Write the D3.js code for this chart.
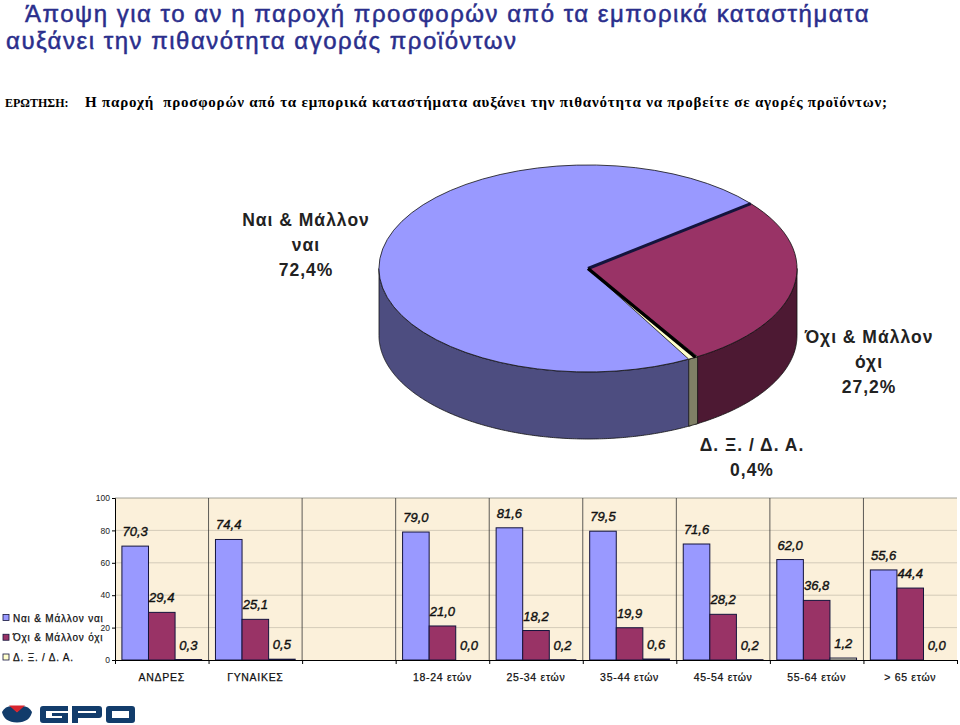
<!DOCTYPE html>
<html>
<head>
<meta charset="utf-8">
<script src="https://cdn.jsdelivr.net/npm/d3@7"></script>
<style>
  html, body { margin: 0; padding: 0; background: #fff; }
  svg { display: block; }
  text { font-family: "Liberation Sans", Arial, sans-serif; }
  .wedge { vector-effect: non-scaling-stroke; }
</style>
</head>
<body>
<div id="the_chart"></div>
<script>
// pie
var pieLabels = ["Ναι & Μάλλον ναι", "Όχι & Μάλλον όχι", "Δ. Ξ. / Δ. Α."];
var pieValues = [72.4, 27.2, 0.4];

// bars
var categories = ["ΑΝΔΡΕΣ", "ΓΥΝΑΙΚΕΣ", " ", "18-24 ετών", "25-34 ετών", "35-44 ετών", "45-54 ετών", "55-64 ετών", "> 65 ετών"];
var yesValues = [70.3, 74.4, null, 79.0, 81.6, 79.5, 71.6, 62.0, 55.6];
var noValues = [29.4, 25.1, null, 21.0, 18.2, 19.9, 28.2, 36.8, 44.4];
var dkValues = [0.3, 0.5, null, 0.0, 0.2, 0.6, 0.2, 1.2, 0.0];
var yTicks = [0, 20, 40, 60, 80, 100];

var colors = ["#9999ff", "#993366", "#ffffcc"];
var wallColors = ["#4d4d80", "#4d1933", "#808066"];

var w = 960, h = 725;
var svg = d3.select("#the_chart").append("svg").attr("width", w).attr("height", h);
var fmt = d3.formatLocale({ decimal: ",", thousands: ".", grouping: [3], currency: ["", ""] }).format(".1f");

// titles
var titleBlue = "#2a2e8c";
function title(x, y, s) {
  svg.append("text").attr("x", x).attr("y", y).attr("font-size", 24).attr("letter-spacing", 1.5)
     .attr("fill", titleBlue).attr("stroke", titleBlue).attr("stroke-width", 0.5).text(s);
}
title(25, 22, "Άποψη για το αν η παροχή προσφορών από τα εμπορικά καταστήματα");
title(6, 49, "αυξάνει την πιθανότητα αγοράς προϊόντων");
svg.append("text").attr("x", 5).attr("y", 106.5).attr("font-size", 12).attr("font-weight", "bold")
   .style("font-family", "'Liberation Serif', serif").text("ΕΡΩΤΗΣΗ:");
svg.append("text").attr("x", 85).attr("y", 106.5).attr("font-size", 15).attr("font-weight", "bold")
   .style("white-space", "pre")
   .style("font-family", "'Liberation Serif', serif")
   .attr("textLength", 802)
   .text("Η παροχή  προσφορών από τα εμπορικά καταστήματα αυξάνει την πιθανότητα να προβείτε σε αγορές προϊόντων;");

// 3d pie
var cx = 588, cy = 268.5, rx = 209, ry = 103.5, depth = 67;
var px = d3.scaleLinear().domain([-1, 1]).range([cx - rx, cx + rx]);
var py = d3.scaleLinear().domain([-1, 1]).range([cy - ry, cy + ry]);
var startDeg = 150.5;
var pieGen = d3.pie().sort(null)
    .startAngle(startDeg * Math.PI / 180)
    .endAngle(startDeg * Math.PI / 180 + 2 * Math.PI);
var slices = pieGen(pieValues);
// the 0,4% sliver is drawn a bit wider so it stays visible
var sliverPad = 0.012;
slices[2].startAngle -= sliverPad;
slices[2].endAngle += sliverPad;

var wall = d3.area()
    .x(function (a) { return px(Math.sin(a)); })
    .y0(function (a) { return py(-Math.cos(a)); })
    .y1(function (a) { return py(-Math.cos(a)) + depth; });

// only the part of a slice between 90 and 270 degrees shows its side
function visibleRange(s) {
  var out = null;
  [0, -2 * Math.PI].forEach(function (o) {
    var lo = Math.max(s.startAngle + o, Math.PI / 2);
    var hi = Math.min(s.endAngle + o, 3 * Math.PI / 2);
    if (hi > lo) out = [lo, hi];
  });
  return out;
}

slices.forEach(function (s, i) {
  var r = visibleRange(s);
  if (!r) return;
  var angles = d3.range(r[0], r[1], 0.01).concat([r[1]]);
  svg.append("path").attr("d", wall(angles))
     .attr("fill", wallColors[i]).attr("stroke", "#111").attr("stroke-width", 0.8);
});

var arc = d3.arc().innerRadius(0).outerRadius(1);
var pieG = svg.append("g").attr("transform", "translate(" + cx + "," + cy + ") scale(" + rx + "," + ry + ")");

function wedge(i) {
  pieG.append("path").attr("class", "wedge").attr("d", arc(slices[i]))
      .attr("fill", colors[i]).attr("stroke", "#111").attr("stroke-width", 0.8);
}
function edge(angle, color, width) {
  svg.append("line")
     .attr("x1", px(0)).attr("y1", py(0))
     .attr("x2", px(Math.sin(angle))).attr("y2", py(-Math.cos(angle)))
     .attr("stroke", color).attr("stroke-width", width);
}
wedge(0);
edge(slices[1].startAngle, "#14143c", 3);
edge(slices[1].endAngle, "#000", 3.5);
wedge(1);
wedge(2);

var pieText = [
  { lines: ["Ναι & Μάλλον", "ναι", fmt(pieValues[0]) + "%"], x: 306, y: 226 },
  { lines: ["Όχι & Μάλλον", "όχι", fmt(pieValues[1]) + "%"], x: 869, y: 343 },
  { lines: ["Δ. Ξ. / Δ. Α.", fmt(pieValues[2]) + "%"], x: 752, y: 451 }
];
pieText.forEach(function (t) {
  t.lines.forEach(function (l, i) {
    svg.append("text").attr("x", t.x).attr("y", t.y + i * 25)
       .attr("text-anchor", "middle").attr("font-size", 17.5).attr("font-weight", "bold")
       .attr("letter-spacing", 1).attr("fill", "#222")
       .text(l);
  });
});

// bars
var left = 115, right = 957, top_ = 498, bottom = 660;
var y = d3.scaleLinear().domain([0, 100]).range([bottom, top_]);
var x0 = d3.scaleBand().domain(categories).range([left, right]);
var seriesIdx = [0, 1, 2];
var x1 = d3.scaleBand().domain(seriesIdx).range([0, x0.bandwidth()]).paddingInner(0).paddingOuter(0.26);
var edges = d3.scaleLinear().domain([0, categories.length]).range([left, right]);

svg.append("rect").attr("x", left).attr("y", top_)
   .attr("width", right - left).attr("height", bottom - top_).attr("fill", "#fbf0da");

svg.append("g").selectAll("line").data(yTicks.slice(1, -1)).enter().append("line")
   .attr("x1", left).attr("x2", right)
   .attr("y1", function (d) { return y(d); }).attr("y2", function (d) { return y(d); })
   .attr("stroke", "#c9c2b0").attr("stroke-width", 0.8);
svg.append("line").attr("x1", left).attr("x2", right).attr("y1", top_).attr("y2", top_)
   .attr("stroke", "#8a8a80").attr("stroke-width", 0.8);

svg.append("g").selectAll("line").data(d3.range(1, categories.length)).enter().append("line")
   .attr("x1", function (d) { return edges(d); }).attr("x2", function (d) { return edges(d); })
   .attr("y1", top_).attr("y2", bottom)
   .attr("stroke", "#333").attr("stroke-width", 0.8);

var seriesData = [yesValues, noValues, dkValues];
seriesData.forEach(function (vals, si) {
  var g = svg.append("g");
  var rows = vals.map(function (v, i) { return { cat: categories[i], v: v }; })
                 .filter(function (d) { return d.v !== null; });
  g.selectAll("rect").data(rows).enter().append("rect")
   .attr("x", function (d) { return x0(d.cat) + x1(si); })
   .attr("y", function (d) { return y(d.v); })
   .attr("width", x1.bandwidth())
   .attr("height", function (d) { return bottom - y(d.v); })
   .attr("fill", colors[si])
   .attr("stroke", "#14143c").attr("stroke-width", 1);
  g.selectAll("text").data(rows).enter().append("text")
   .attr("x", function (d) { return x0(d.cat) + x1(si) + x1.bandwidth() / 2; })
   .attr("y", function (d) { return y(d.v) - 10; })
   .attr("text-anchor", "middle")
   .attr("font-size", 13).attr("font-style", "italic")
   .attr("fill", "#111").attr("stroke", "#111").attr("stroke-width", 0.4)
   .text(function (d) { return fmt(d.v); });
});

var yaxis = d3.axisLeft(y).tickValues(yTicks).tickSize(3).tickPadding(2);
svg.append("g").attr("transform", "translate(" + left + ",0)").call(yaxis)
   .call(function (g) { g.selectAll("text").attr("font-size", 8.5).attr("fill", "#222"); });

var xticks = d3.axisBottom(edges).tickValues(d3.range(0, categories.length + 1)).tickFormat("").tickSize(4).tickSizeOuter(0);
svg.append("g").attr("transform", "translate(0," + bottom + ")").call(xticks);

var xaxis = d3.axisBottom(x0).tickSize(0).tickPadding(14);
svg.append("g").attr("transform", "translate(0," + bottom + ")").call(xaxis)
   .call(function (g) {
     g.select(".domain").remove();
     g.selectAll("text").attr("font-size", 10.5).attr("fill", "#111").attr("letter-spacing", 0.7)
      .attr("stroke", "#111").attr("stroke-width", 0.25);
   });

// legend
var legendY = d3.scalePoint().domain(pieLabels).range([618, 657.5]);
var legend = svg.append("g").selectAll("g").data(pieLabels).enter().append("g")
   .attr("transform", function (d) { return "translate(3," + legendY(d) + ")"; });
legend.append("rect").attr("x", 0).attr("y", -3.5).attr("width", 6).attr("height", 6)
   .attr("fill", function (d, i) { return colors[i]; })
   .attr("stroke", "#14143c").attr("stroke-width", 0.8);
legend.append("text").attr("x", 10).attr("y", 3.5)
   .attr("font-size", 10).attr("letter-spacing", 0.8).attr("fill", "#111")
   .attr("stroke", "#111").attr("stroke-width", 0.25)
   .text(function (d) { return d; });

// GPO logo
var navy = "#123c6b";
var logo = svg.append("g");
logo.append("path").attr("fill", navy)
    .attr("d", "M2,712 Q5,706 12,706 L17,712 L22,706 Q29,706 32,712 Q30,722 17,722.5 Q4,722 2,712 Z");
logo.append("path").attr("fill", "#d8252e").attr("d", "M9,705.5 H25 L17,712.5 Z");
logo.append("path").attr("fill", navy).attr("fill-rule", "evenodd")
    .attr("d", "M43,706 H68 V711 H46 V718 H62 V716 H52 V713 H68 V723 H43 Q40,723 40,720 V709 Q40,706 43,706 Z");
logo.append("path").attr("fill", navy).attr("fill-rule", "evenodd")
    .attr("d", "M72,706 H99 Q102,706 102,709 V715 Q102,718 99,718 H78 V723 H72 Z M78,711 V713 H96 V711 Z");
logo.append("path").attr("fill", navy).attr("fill-rule", "evenodd")
    .attr("d", "M109,706 H132 Q135,706 135,709 V720 Q135,723 132,723 H109 Q106,723 106,720 V709 Q106,706 109,706 Z M112,711 V718 H129 V711 Z");
</script>
</body>
</html>
